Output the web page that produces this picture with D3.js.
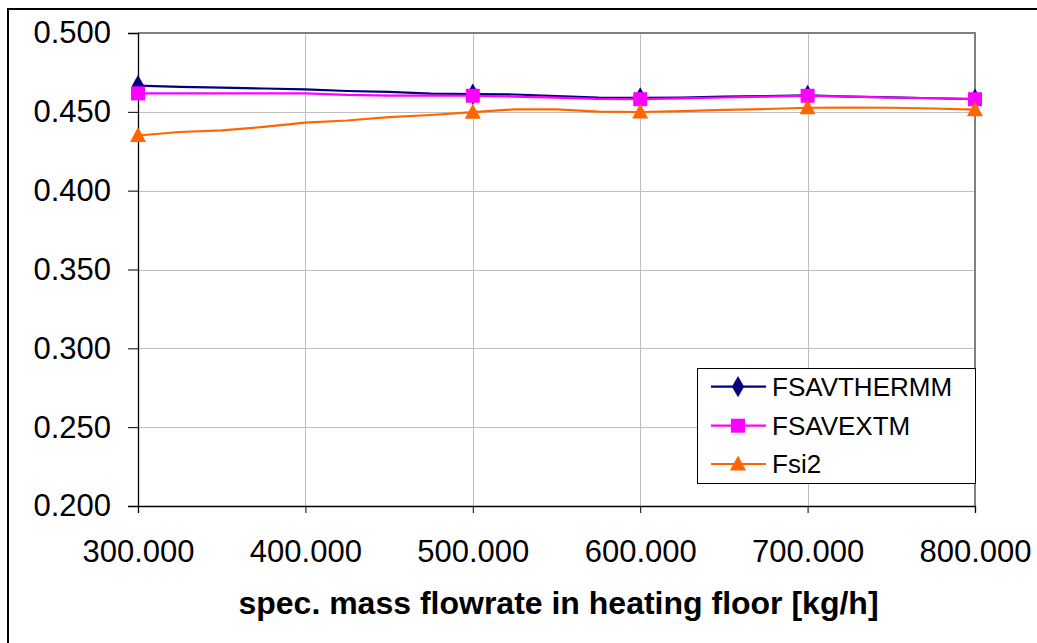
<!DOCTYPE html>
<html>
<head>
<meta charset="utf-8">
<script src="https://cdn.jsdelivr.net/npm/d3@7"></script>
<style>
  html, body { margin: 0; padding: 0; background: #fff; }
  svg { display: block; }
  text { font-family: "Liberation Sans", Arial, sans-serif; fill: #000; }
</style>
</head>
<body>
<svg id="chart" width="1037" height="643"></svg>
<script>
// ---- data ----
const flowrates = [300, 325, 350, 375, 400, 425, 450, 475, 500, 525, 550, 575, 600, 625, 650, 675, 700, 725, 750, 775, 800];
const fsavThermm = [0.4666, 0.4658, 0.4653, 0.4648, 0.4642, 0.4632, 0.4626, 0.4616, 0.4613, 0.4610, 0.4600, 0.4591, 0.4588, 0.4591, 0.4597, 0.4600, 0.4604, 0.4597, 0.4592, 0.4586, 0.4580];
const fsavExtm = [0.4617, 0.4617, 0.4617, 0.4617, 0.4617, 0.4607, 0.4603, 0.4603, 0.4602, 0.4597, 0.4590, 0.4582, 0.4580, 0.4585, 0.4591, 0.4597, 0.4602, 0.4597, 0.4591, 0.4586, 0.4580];
const fsi2 = [0.4350, 0.4372, 0.4382, 0.4404, 0.4431, 0.4445, 0.4467, 0.4480, 0.4498, 0.4516, 0.4515, 0.4501, 0.4499, 0.4505, 0.4512, 0.4518, 0.4526, 0.4527, 0.4526, 0.4521, 0.4514];
const markerFlowrates = [300, 500, 600, 700, 800];
const seriesNames = ["FSAVTHERMM", "FSAVEXTM", "Fsi2"];
const xTicks = [300, 400, 500, 600, 700, 800];
const yTicks = [0.200, 0.250, 0.300, 0.350, 0.400, 0.450, 0.500];
const xTitle = "spec. mass flowrate in heating floor [kg/h]";

const series = [
  { name: seriesNames[0], values: fsavThermm, color: "#000080", marker: "diamond" },
  { name: seriesNames[1], values: fsavExtm, color: "#FF00FF", marker: "square" },
  { name: seriesNames[2], values: fsi2, color: "#FF6600", marker: "triangle" }
];

const svg = d3.select("#chart");

// outer frame
svg.append("rect").attr("x", 8).attr("y", 9).attr("width", 1100).attr("height", 700)
  .attr("fill", "none").attr("stroke", "#000").attr("stroke-width", 2);

const plot = { left: 138, right: 975, top: 33, bottom: 506 };
const x = d3.scaleLinear().domain([300, 800]).range([plot.left, plot.right]);
const y = d3.scaleLinear().domain([0.2, 0.5]).range([plot.bottom, plot.top]);

// gridlines
const grid = svg.append("g");
grid.selectAll("line.h").data(yTicks.filter(d => d > 0.2 && d < 0.5)).enter().append("line")
  .attr("x1", plot.left).attr("x2", plot.right)
  .attr("y1", d => Math.round(y(d)) + 0.5).attr("y2", d => Math.round(y(d)) + 0.5)
  .attr("stroke", "#c0c0c0").attr("stroke-width", 1);
grid.selectAll("line.v").data(xTicks.filter(d => d > 300 && d < 800)).enter().append("line")
  .attr("y1", plot.top).attr("y2", plot.bottom)
  .attr("x1", d => Math.round(x(d)) + 0.5).attr("x2", d => Math.round(x(d)) + 0.5)
  .attr("stroke", "#c0c0c0").attr("stroke-width", 1);

// plot border top/right (gray)
svg.append("path")
  .attr("d", `M${plot.left},${plot.top} H${plot.right} V${plot.bottom}`)
  .attr("fill", "none").attr("stroke", "#808080").attr("stroke-width", 2);

// axes
const yAxis = d3.axisLeft(y).tickValues(yTicks).tickFormat(d3.format(".3f")).tickSize(10).tickPadding(17);
const gy = svg.append("g").attr("transform", `translate(${plot.left},0)`).call(yAxis);
gy.select(".domain").attr("stroke", "#000").attr("stroke-width", 1.3);
gy.selectAll(".tick line").attr("stroke", "#000");
gy.selectAll(".tick text").attr("font-size", 31).attr("font-family", "Liberation Sans, Arial, sans-serif").attr("fill", "#000");

const xAxis = d3.axisBottom(x).tickValues(xTicks).tickFormat(d => d3.format(".3f")(d)).tickSize(7).tickPadding(27);
const gx = svg.append("g").attr("transform", `translate(0,${plot.bottom})`).call(xAxis);
gx.select(".domain").attr("stroke", "#000").attr("stroke-width", 1.3);
gx.selectAll(".tick line").attr("stroke", "#000");
gx.selectAll(".tick text").attr("font-size", 31).attr("font-family", "Liberation Sans, Arial, sans-serif").attr("fill", "#000");

// axis title
svg.append("text").attr("x", (plot.left + plot.right) / 2 + 2).attr("y", 614)
  .attr("text-anchor", "middle").attr("font-size", 32).attr("font-weight", "bold").text(xTitle);

// markers
function markerPath(type) {
  if (type === "diamond") return d3.symbol(d3.symbolDiamond, 130)();
  if (type === "square") return "M-7,-7H7V7H-7Z";
  return "M0,-8.5L8,6.5L-8,6.5Z";
}

const line = d3.line().x(d => x(d[0])).y(d => y(d[1]));
series.forEach(s => {
  const pts = flowrates.map((f, i) => [f, s.values[i]]);
  svg.append("path").datum(pts).attr("d", line)
    .attr("fill", "none").attr("stroke", s.color).attr("stroke-width", 2.2).attr("stroke-linejoin", "round");
  const mk = pts.filter(p => markerFlowrates.includes(p[0]));
  svg.append("g").selectAll("path").data(mk).enter().append("path")
    .attr("d", markerPath(s.marker))
    .attr("transform", d => `translate(${x(d[0])},${y(d[1])})`)
    .attr("fill", s.color);
});

// legend
const lg = svg.append("g");
lg.append("rect").attr("x", 697.5).attr("y", 368.5).attr("width", 278).attr("height", 115)
  .attr("fill", "#fff").attr("stroke", "#000").attr("stroke-width", 1);
const legY = [386.7, 425.7, 464];
series.forEach((s, i) => {
  lg.append("line").attr("x1", 711).attr("x2", 766).attr("y1", legY[i]).attr("y2", legY[i])
    .attr("stroke", s.color).attr("stroke-width", 2.2);
  lg.append("path").attr("d", markerPath(s.marker))
    .attr("transform", `translate(738,${legY[i]})`).attr("fill", s.color);
  lg.append("text").attr("x", 772).attr("y", legY[i]).attr("dy", "0.36em")
    .attr("font-size", 26).text(s.name);
});
</script>
</body>
</html>
